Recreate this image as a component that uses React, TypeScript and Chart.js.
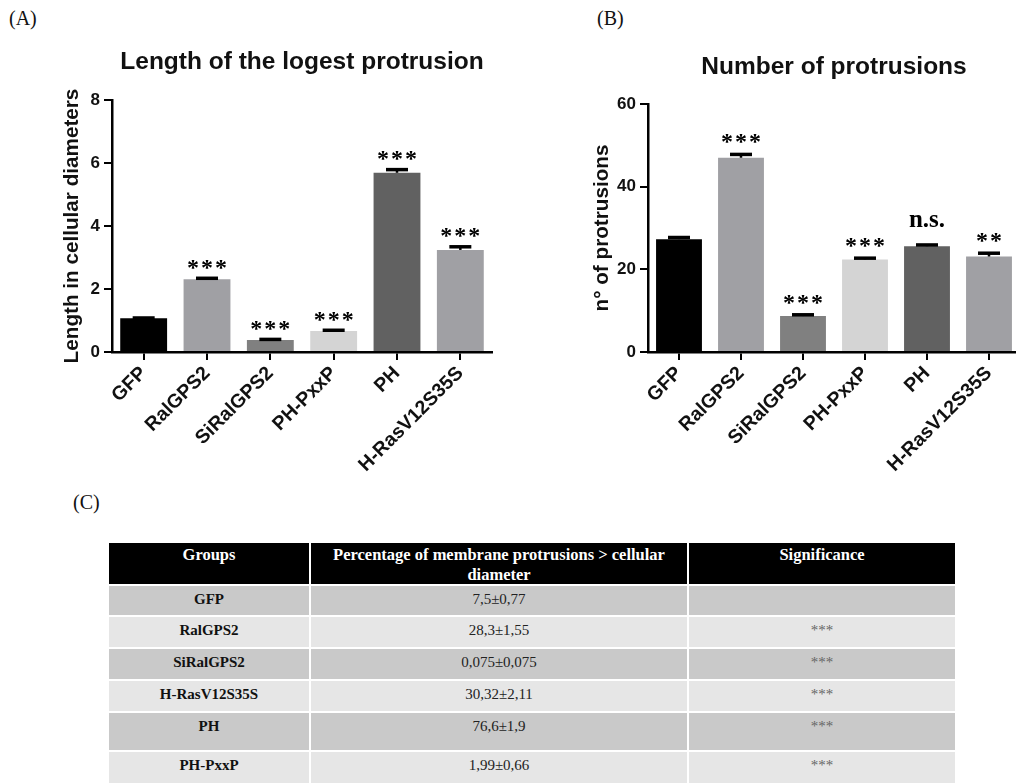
import React, { useEffect, useRef } from 'react';
import { Chart, registerables } from 'chart.js';

Chart.register(...registerables);

// ---------- DATA ----------
const groups = ['GFP', 'RalGPS2', 'SiRalGPS2', 'PH-PxxP', 'PH', 'H-RasV12S35S'];
const barColors = ['#000000', '#a0a0a4', '#808080', '#d4d4d4', '#616161', '#a0a0a4'];

const lengthMeans = [1.07, 2.31, 0.38, 0.67, 5.69, 3.24];
const lengthSem = [0.01, 0.03, 0.02, 0.02, 0.1, 0.1];
const lengthSig = ['', '***', '***', '***', '***', '***'];
const lengthTicks = { max: 8, step: 2 };

const countMeans = [27.3, 47.0, 8.7, 22.4, 25.6, 23.1];
const countSem = [0.4, 0.8, 0.3, 0.3, 0.3, 0.8];
const countSig = ['', '***', '***', '***', 'n.s.', '**'];
const countTicks = { max: 60, step: 20 };

const tableHeader = ['Groups', 'Percentage of membrane protrusions > cellular', 'diameter', 'Significance'];
const tableGroups = ['GFP', 'RalGPS2', 'SiRalGPS2', 'H-RasV12S35S', 'PH', 'PH-PxxP'];
const tableValues = ['7,5±0,77', '28,3±1,55', '0,075±0,075', '30,32±2,11', '76,6±1,9', '1,99±0,66'];
const tableSig = ['', '***', '***', '***', '***', '***'];

// ---------- STYLE ----------
const SANS = "'Liberation Sans', Arial, Helvetica, sans-serif";
const SERIF = "'Liberation Serif', 'Times New Roman', Times, serif";

function makeErrPlugin(means: number[], sems: number[], sigs: string[], starOffset: number, nsOffset: number) {
  return {
    id: 'errSig',
    afterDatasetsDraw(chart: any) {
      const ctx = chart.ctx as CanvasRenderingContext2D;
      const xs = chart.scales.x;
      const ys = chart.scales.y;
      ctx.save();
      means.forEach((m, i) => {
        const cx = xs.getPixelForValue(i);
        const y0 = ys.getPixelForValue(m);
        const y1 = ys.getPixelForValue(m + sems[i]);
        ctx.strokeStyle = '#000';
        ctx.lineWidth = 2.5;
        ctx.beginPath();
        ctx.moveTo(cx, y0);
        ctx.lineTo(cx, y1);
        ctx.stroke();
        ctx.lineWidth = 3.5;
        ctx.beginPath();
        ctx.moveTo(cx - 11, y1);
        ctx.lineTo(cx + 11, y1);
        ctx.stroke();
        const s = sigs[i];
        if (!s) return;
        ctx.fillStyle = '#000';
        ctx.textBaseline = 'alphabetic';
        if (s === 'n.s.') {
          ctx.font = `bold 25px ${SERIF}`;
          ctx.textAlign = 'center';
          ctx.fillText(s, cx, y1 - nsOffset);
        } else {
          ctx.font = `bold 24px ${SERIF}`;
          ctx.textAlign = 'left';
          const adv = ctx.measureText('*').width;
          const gap = 2;
          const total = s.length * adv + (s.length - 1) * gap;
          let sx = cx - total / 2;
          for (let k = 0; k < s.length; k++) {
            ctx.fillText('*', sx, y1 - starOffset + 11.3);
            sx += adv + gap;
          }
        }
      });
      ctx.restore();
    },
  };
}

function makeConfig(p: {
  means: number[];
  sems: number[];
  sigs: string[];
  max: number;
  step: number;
  title: string;
  yTitle: string;
  titlePad: { top: number; bottom: number };
  yTitlePad: number;
  yWidth: number;
  xHeight: number;
  padRight: number;
  starOffset: number;
  nsOffset: number;
}): any {
  return {
    type: 'bar',
    data: {
      labels: groups,
      datasets: [
        {
          data: p.means,
          backgroundColor: barColors,
          borderWidth: 0,
          barPercentage: 0.74,
          categoryPercentage: 1,
        },
      ],
    },
    options: {
      responsive: false,
      animation: false,
      layout: { padding: { left: 0, right: p.padRight, top: 0, bottom: 0 } },
      plugins: {
        legend: { display: false },
        tooltip: { enabled: false },
        title: {
          display: true,
          text: p.title,
          fullSize: false,
          color: '#111',
          font: { family: SANS, size: 24.5, weight: 'bold', lineHeight: 1.2 },
          padding: p.titlePad,
        },
      },
      scales: {
        x: {
          type: 'category',
          offset: true,
          grid: {
            display: true,
            drawOnChartArea: false,
            drawTicks: true,
            tickLength: 8,
            color: '#000',
            lineWidth: 2,
            offset: false,
          },
          border: { display: true, color: '#000', width: 2.5 },
          ticks: {
            color: '#111',
            font: { family: SANS, size: 19.5, weight: 'bold' },
            minRotation: 45,
            maxRotation: 45,
            padding: 2,
            autoSkip: false,
          },
          afterFit: (s: any) => {
            s.height = p.xHeight;
          },
        },
        y: {
          min: 0,
          max: p.max,
          ticks: {
            stepSize: p.step,
            color: '#111',
            font: { family: SANS, size: 17, weight: 'bold' },
            padding: 4,
          },
          grid: {
            drawOnChartArea: false,
            drawTicks: true,
            tickLength: 8,
            color: '#000',
            lineWidth: 2,
          },
          border: { display: true, color: '#000', width: 2.5 },
          title: {
            display: true,
            text: p.yTitle,
            color: '#111',
            font: { family: SANS, size: 20.7, weight: 'bold', lineHeight: 1.2 },
            padding: { top: p.yTitlePad, bottom: 0 },
          },
          afterFit: (s: any) => {
            s.width = p.yWidth;
          },
        },
      },
    },
    plugins: [makeErrPlugin(p.means, p.sems, p.sigs, p.starOffset, p.nsOffset)],
  };
}

function BarChart(props: { config: any; width: number; height: number; left: number; top: number }) {
  const ref = useRef<HTMLCanvasElement | null>(null);
  useEffect(() => {
    if (!ref.current) return;
    const chart = new Chart(ref.current, props.config);
    return () => chart.destroy();
  }, []);
  return (
    <canvas
      ref={ref}
      width={props.width}
      height={props.height}
      style={{ position: 'absolute', left: props.left, top: props.top, width: props.width, height: props.height }}
    />
  );
}

const configA = makeConfig({
  means: lengthMeans,
  sems: lengthSem,
  sigs: lengthSig,
  max: lengthTicks.max,
  step: lengthTicks.step,
  title: 'Length of the logest protrusion',
  yTitle: 'Length in cellular diameters',
  titlePad: { top: 47.3, bottom: 23.3 },
  yTitlePad: 60,
  yWidth: 112,
  xHeight: 128,
  padRight: 8,
  starOffset: 15,
  nsOffset: 18,
});

const configB = makeConfig({
  means: countMeans,
  sems: countSem,
  sigs: countSig,
  max: countTicks.max,
  step: countTicks.step,
  title: 'Number of protrusions',
  yTitle: 'n° of protrusions',
  titlePad: { top: 52.3, bottom: 22.3 },
  yTitlePad: 90,
  yWidth: 148,
  xHeight: 128,
  padRight: 0,
  starOffset: 16.5,
  nsOffset: 18,
});

const panelLabel = (text: string, left: number, top: number) => (
  <div
    style={{
      position: 'absolute',
      left,
      top,
      fontFamily: SERIF,
      fontSize: 20,
      lineHeight: '24px',
      color: '#111',
    }}
  >
    {text}
  </div>
);

export default function App() {
  const rowBg = ['#c9c9c9', '#e6e6e6'];
  const rowHeights = [29, 30, 30, 30, 37, 33];
  const cellBase: React.CSSProperties = {
    textAlign: 'center',
    fontFamily: SERIF,
    boxSizing: 'border-box',
    overflow: 'hidden',
  };
  const headCell: React.CSSProperties = {
    ...cellBase,
    background: '#000',
    color: '#fff',
    fontWeight: 'bold',
    fontSize: 16.5,
    lineHeight: '20px',
    paddingTop: 2,
  };
  return (
    <div
      style={{
        position: 'absolute',
        left: 0,
        top: 0,
        width: 1016,
        height: 783,
        overflow: 'hidden',
        background: '#fff',
      }}
    >
      {panelLabel('(A)', 9, 6)}
      {panelLabel('(B)', 597, 6)}
      {panelLabel('(C)', 73, 490)}
      <BarChart config={configA} width={500} height={480} left={0} top={0} />
      <BarChart config={configB} width={520} height={480} left={500} top={0} />
      <div
        style={{
          position: 'absolute',
          left: 109,
          top: 543,
          display: 'grid',
          gridTemplateColumns: '200px 376px 266px',
          gridTemplateRows: ['41px', ...rowHeights.map((h) => h + 'px')].join(' '),
          columnGap: 2,
          rowGap: 2,
        }}
      >
        <div style={headCell}>{tableHeader[0]}</div>
        <div style={headCell}>
          {tableHeader[1]}
          <br />
          {tableHeader[2]}
        </div>
        <div style={headCell}>{tableHeader[3]}</div>
        {tableGroups.map((g, i) => (
          <React.Fragment key={g}>
            <div style={{ ...cellBase, background: rowBg[i % 2], color: '#111', fontWeight: 'bold', fontSize: 15, lineHeight: '18px', paddingTop: 4 }}>
              {g}
            </div>
            <div style={{ ...cellBase, background: rowBg[i % 2], color: '#222', fontSize: 15, lineHeight: '18px', paddingTop: 4 }}>
              {tableValues[i]}
            </div>
            <div style={{ ...cellBase, background: rowBg[i % 2], color: '#666', fontSize: 15, lineHeight: '18px', paddingTop: 4 }}>
              {tableSig[i]}
            </div>
          </React.Fragment>
        ))}
      </div>
    </div>
  );
}
